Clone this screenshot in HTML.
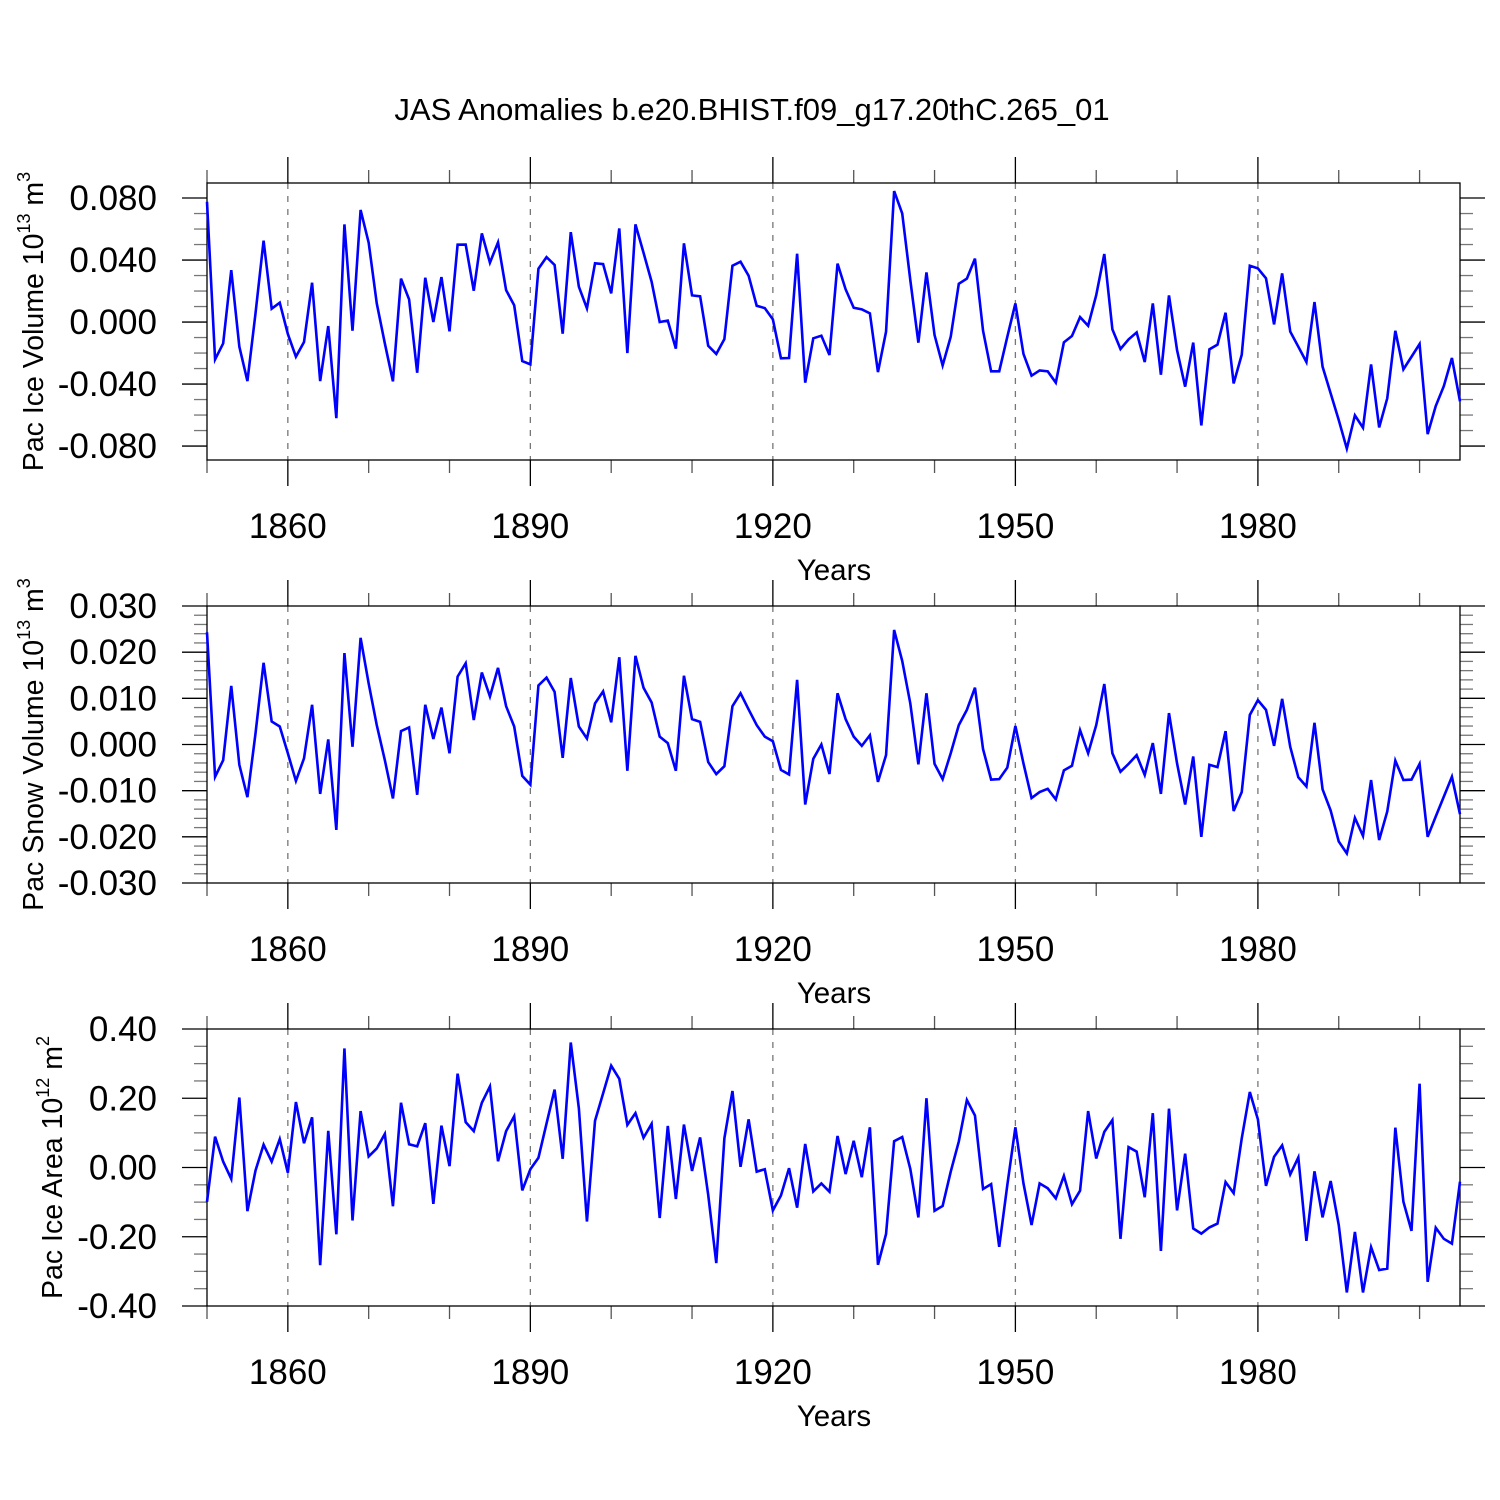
<!DOCTYPE html>
<html><head><meta charset="utf-8"><style>
html,body{margin:0;padding:0;background:#fff;}
svg{display:block;font-family:"Liberation Sans",Arial,sans-serif;}
</style></head><body>
<svg id="chart" width="1500" height="1500" viewBox="0 0 1500 1500" xmlns="http://www.w3.org/2000/svg">
<rect width="1500" height="1500" fill="#fff"/>
<text x="752" y="120" font-size="31" text-anchor="middle">JAS Anomalies b.e20.BHIST.f09_g17.20thC.265_01</text>
</svg>
<script>
const startYear = 1850;
const xTickYears = [1860, 1890, 1920, 1950, 1980];
const iceVolume = [0.0776,-0.0241,-0.0138,0.0335,-0.0159,-0.0381,0.0056,0.0525,0.0086,0.0125,-0.0077,-0.0224,-0.0129,0.0254,-0.0381,-0.0026,-0.062,0.063,-0.0056,0.0723,0.0512,0.012,-0.0138,-0.0383,0.028,0.0146,-0.0327,0.0286,0,0.029,-0.006,0.0499,0.05,0.0202,0.0572,0.0383,0.0514,0.0206,0.0108,-0.0252,-0.0273,0.0344,0.0419,0.0368,-0.0075,0.058,0.0228,0.0088,0.0379,0.0374,0.0185,0.0604,-0.02,0.063,0.0447,0.026,0,0.0009,-0.0172,0.0508,0.0172,0.0166,-0.0153,-0.0206,-0.011,0.0363,0.0389,0.0299,0.0105,0.009,0.0017,-0.0234,-0.0232,0.0441,-0.0391,-0.0105,-0.0088,-0.0213,0.0377,0.0211,0.0092,0.0082,0.0056,-0.0323,-0.0062,0.0845,0.0701,0.0271,-0.0133,0.032,-0.0084,-0.028,-0.0095,0.0247,0.028,0.0409,-0.0056,-0.0318,-0.0318,-0.0095,0.012,-0.0206,-0.0346,-0.0312,-0.0318,-0.0391,-0.0131,-0.009,0.0032,-0.0024,0.0174,0.0439,-0.0047,-0.0174,-0.0112,-0.0067,-0.0258,0.012,-0.034,0.0172,-0.0181,-0.0417,-0.0133,-0.0667,-0.0176,-0.0146,0.006,-0.0396,-0.0211,0.0363,0.0346,0.0282,-0.0015,0.0314,-0.0062,-0.0159,-0.0258,0.0129,-0.0288,-0.046,-0.0632,-0.0817,-0.0602,-0.0682,-0.0273,-0.068,-0.0492,-0.0056,-0.0305,-0.0224,-0.0142,-0.0723,-0.0542,-0.0413,-0.0232,-0.0512];
const snowVolume = [0.0243,-0.0070,-0.0034,0.0127,-0.0044,-0.0114,0.0024,0.0177,0.0050,0.0039,-0.0019,-0.0079,-0.0030,0.0086,-0.0107,0.0011,-0.0185,0.0198,-0.0005,0.0231,0.0132,0.0042,-0.0034,-0.0117,0.0029,0.0037,-0.0109,0.0086,0.0012,0.0080,-0.0019,0.0147,0.0176,0.0053,0.0156,0.0104,0.0166,0.0083,0.0039,-0.0068,-0.0087,0.0128,0.0145,0.0114,-0.0029,0.0144,0.0039,0.0013,0.0089,0.0115,0.0048,0.0189,-0.0057,0.0192,0.0123,0.0091,0.0017,0.0003,-0.0057,0.0149,0.0055,0.0049,-0.0038,-0.0064,-0.0047,0.0083,0.0111,0.0076,0.0042,0.0017,0.0007,-0.0055,-0.0065,0.0140,-0.0130,-0.0031,0.0000,-0.0064,0.0111,0.0055,0.0017,-0.0003,0.0020,-0.0081,-0.0023,0.0248,0.0181,0.0089,-0.0043,0.0111,-0.0042,-0.0075,-0.0019,0.0042,0.0075,0.0123,-0.0010,-0.0076,-0.0075,-0.0050,0.0040,-0.0041,-0.0116,-0.0103,-0.0096,-0.0119,-0.0056,-0.0046,0.0031,-0.0019,0.0042,0.0131,-0.0019,-0.0059,-0.0042,-0.0023,-0.0066,0.0003,-0.0107,0.0068,-0.0041,-0.0130,-0.0026,-0.0200,-0.0044,-0.0049,0.0029,-0.0144,-0.0103,0.0064,0.0096,0.0075,-0.0003,0.0099,-0.0005,-0.0071,-0.0091,0.0047,-0.0097,-0.0143,-0.0210,-0.0236,-0.0159,-0.0198,-0.0077,-0.0207,-0.0145,-0.0035,-0.0077,-0.0076,-0.0042,-0.0200,-0.0156,-0.0113,-0.0070,-0.0151];
const iceArea = [-0.099,0.089,0.017,-0.033,0.202,-0.126,-0.009,0.066,0.017,0.082,-0.015,0.189,0.070,0.145,-0.282,0.106,-0.193,0.344,-0.153,0.163,0.032,0.055,0.097,-0.112,0.187,0.067,0.061,0.128,-0.105,0.121,0.004,0.271,0.131,0.105,0.187,0.234,0.018,0.105,0.148,-0.066,-0.005,0.028,0.127,0.225,0.025,0.361,0.171,-0.156,0.135,0.214,0.294,0.256,0.123,0.157,0.086,0.126,-0.146,0.120,-0.091,0.124,-0.010,0.087,-0.079,-0.276,0.084,0.221,0.002,0.139,-0.012,-0.005,-0.124,-0.081,-0.002,-0.116,0.068,-0.069,-0.046,-0.070,0.091,-0.019,0.077,-0.028,0.116,-0.281,-0.192,0.076,0.088,-0.004,-0.144,0.200,-0.125,-0.111,-0.012,0.075,0.195,0.150,-0.062,-0.048,-0.229,-0.051,0.116,-0.046,-0.166,-0.046,-0.060,-0.089,-0.024,-0.106,-0.067,0.163,0.026,0.103,0.137,-0.206,0.059,0.046,-0.086,0.157,-0.241,0.170,-0.124,0.040,-0.176,-0.191,-0.173,-0.162,-0.042,-0.074,0.084,0.218,0.139,-0.053,0.031,0.064,-0.020,0.029,-0.212,-0.011,-0.144,-0.039,-0.166,-0.361,-0.186,-0.361,-0.230,-0.296,-0.292,0.115,-0.099,-0.183,0.242,-0.330,-0.174,-0.206,-0.220,-0.041];
const iceVolTicks = [0.08, 0.04, 0, -0.04, -0.08];
const iceVolTickLabels = ["0.080","0.040","0.000","-0.040","-0.080"];
const snowTicks = [0.03, 0.02, 0.01, 0, -0.01, -0.02, -0.03];
const snowTickLabels = ["0.030","0.020","0.010","0.000","-0.010","-0.020","-0.030"];
const areaTicks = [0.4, 0.2, 0, -0.2, -0.4];
const areaTickLabels = ["0.40","0.20","0.00","-0.20","-0.40"];

const NS = "http://www.w3.org/2000/svg";
const svg = document.getElementById("chart");
function mk(tag, attrs, parent) {
  const e = document.createElementNS(NS, tag);
  for (const k in attrs) e.setAttribute(k, attrs[k]);
  (parent || svg).appendChild(e);
  return e;
}
const X0 = 207, X1 = 1460, Y0 = startYear, Y1 = 2005;
function xScale(yr) { return X0 + (yr - Y0) * (X1 - X0) / (Y1 - Y0); }

const panels = [
  {name:"ice-volume", top:183, bottom:460, vmax:0.0897, vmin:-0.0890, data:iceVolume, ticks:iceVolTicks, labels:iceVolTickLabels, minor:0.01, titleMain:"Pac Ice Volume 10", sup1:"13", unit:" m", sup2:"3", titleX:43},
  {name:"snow-volume", top:606, bottom:883, vmax:0.030, vmin:-0.030, data:snowVolume, ticks:snowTicks, labels:snowTickLabels, minor:0.002, titleMain:"Pac Snow Volume 10", sup1:"13", unit:" m", sup2:"3", titleX:43},
  {name:"ice-area", top:1029, bottom:1306, vmax:0.40, vmin:-0.40, data:iceArea, ticks:areaTicks, labels:areaTickLabels, minor:0.05, titleMain:"Pac Ice Area 10", sup1:"12", unit:" m", sup2:"2", titleX:62}
];

panels.forEach(function(p) {
  const g = mk("g", {});
  
  
  const yS = v => p.bottom - (v - p.vmin) * (p.bottom - p.top) / (p.vmax - p.vmin);
  xTickYears.forEach(function(yr) {
    const l = mk("line", {x1:xScale(yr), x2:xScale(yr), y1:p.top, y2:p.bottom, stroke:"#777", "stroke-width":1.3, "stroke-dasharray":"6,7"}, g);
    
    
  });
  for (let yr = 1850; yr <= 2005; yr += 10) {
    const major = xTickYears.indexOf(yr) >= 0;
    const len = major ? 26 : 13;
    mk("line", {x1:xScale(yr), x2:xScale(yr), y1:p.bottom, y2:p.bottom + len, stroke:major?"#000":"#555", "stroke-width":1.3}, g);
    mk("line", {x1:xScale(yr), x2:xScale(yr), y1:p.top, y2:p.top - len, stroke:major?"#000":"#555", "stroke-width":1.3}, g);
  }
  const nMinor = Math.round((p.vmax - p.vmin) / p.minor) + 2;
  for (let k = -nMinor; k <= nMinor; k++) {
    const v = k * p.minor;
    if (v > p.vmax + 1e-9 || v < p.vmin - 1e-9) continue;
    const major = p.ticks.some(t => Math.abs(t - v) < 1e-9);
    const len = major ? 25 : 13;
    const y = yS(v);
    mk("line", {x1:X0 - len, x2:X0, y1:y, y2:y, stroke:major?"#000":"#777", "stroke-width":1.3}, g);
    mk("line", {x1:X1, x2:X1 + len, y1:y, y2:y, stroke:major?"#000":"#777", "stroke-width":1.3}, g);
  }
  p.ticks.forEach(function(t, i) {
    const tx = mk("text", {x:157, y:yS(t) + 12, "font-size":35, "text-anchor":"end"}, g);
    
    
    tx.textContent = p.labels[i];
  });
  xTickYears.forEach(function(yr) {
    const tx = mk("text", {x:xScale(yr), y:p.bottom + 78, "font-size":35, "text-anchor":"middle"}, g);
    
    
    tx.textContent = String(yr);
  });
  const xt = mk("text", {x:834, y:p.bottom + 120, "font-size":29.5, "text-anchor":"middle"}, g);
  
  
  xt.textContent = "Years";
  const cy = (p.top + p.bottom) / 2;
  const yt = mk("text", {x:0, y:0, "font-size":28.5, "text-anchor":"middle", transform:"translate(" + p.titleX + "," + cy + ") rotate(-90)"}, g);
  
  
  const s0 = mk("tspan", {}, yt); s0.textContent = p.titleMain;
  const s1 = mk("tspan", {"font-size":18, dy:-13}, yt); s1.textContent = p.sup1;
  const s2 = mk("tspan", {dy:13}, yt); s2.textContent = p.unit;
  const s3 = mk("tspan", {"font-size":18, dy:-13}, yt); s3.textContent = p.sup2;
  const box = mk("rect", {x:X0, y:p.top, width:X1 - X0, height:p.bottom - p.top, fill:"none", stroke:"#000", "stroke-width":1.3}, g);
  
  
  const pts = p.data.map((v, i) => xScale(startYear + i).toFixed(2) + "," + yS(v).toFixed(2)).join(" ");
  const line = mk("polyline", {points:pts, fill:"none", stroke:"#0000ff", "stroke-width":2.6, "stroke-linejoin":"miter"}, g);
  
  
});
</script>
</body></html>
